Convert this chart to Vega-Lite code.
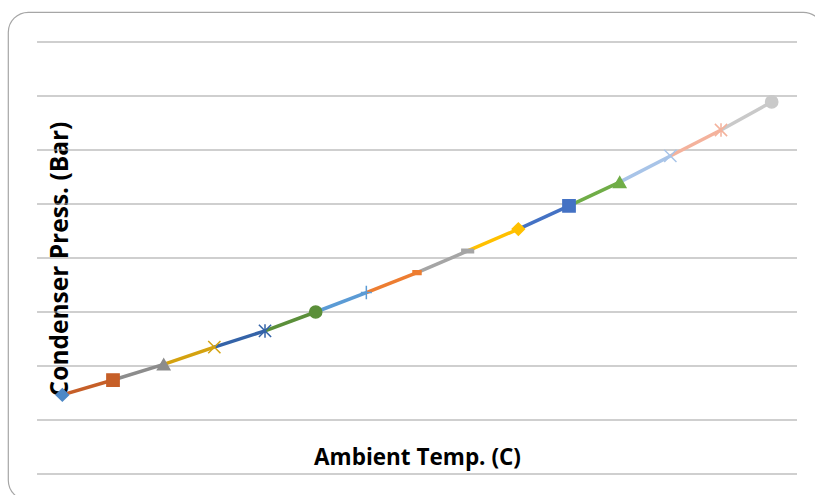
{
  "$schema": "https://vega.github.io/schema/vega-lite/v6.json",
  "width": 815,
  "height": 488,
  "autosize": {"type": "none"},
  "padding": {"left": 8, "top": 12, "right": -8, "bottom": -5},
  "background": "white",
  "config": {
    "view": {"stroke": "#A6A6A6", "strokeWidth": 1.2, "cornerRadius": 20},
    "axis": {"domain": false, "ticks": false, "labels": false, "grid": false, "titleFont": "Open Sans", "titleFontWeight": "bold", "titleColor": "#000000"},
    "axisX": {"titleX": 409, "titleY": -43, "titleAlign": "center", "titleBaseline": "middle", "titleFontSize": 22.5},
    "axisY": {"titleX": 52, "titleY": 246.5, "titleAngle": 270, "titleAlign": "center", "titleBaseline": "middle", "titleFontSize": 24.5}
  },
  "datasets": {
    "pts": [
      {"s": 1, "T": 20, "P": 2.93, "m": "diamond"},
      {"s": 2, "T": 22, "P": 3.48, "m": "square"},
      {"s": 3, "T": 24, "P": 4.06, "m": "triangle"},
      {"s": 4, "T": 26, "P": 4.70, "m": "x"},
      {"s": 5, "T": 28, "P": 5.30, "m": "star"},
      {"s": 6, "T": 30, "P": 6.00, "m": "circle"},
      {"s": 7, "T": 32, "P": 6.72, "m": "plus"},
      {"s": 8, "T": 34, "P": 7.46, "m": "dash"},
      {"s": 9, "T": 36, "P": 8.26, "m": "longdash"},
      {"s": 10, "T": 38, "P": 9.07, "m": "diamond"},
      {"s": 11, "T": 40, "P": 9.93, "m": "square"},
      {"s": 12, "T": 42, "P": 10.81, "m": "triangle"},
      {"s": 13, "T": 44, "P": 11.78, "m": "x"},
      {"s": 14, "T": 46, "P": 12.74, "m": "star"},
      {"s": 15, "T": 48, "P": 13.78, "m": "circle"}
    ],
    "segs": [
      {"s": 2, "T": 20, "P": 2.93}, {"s": 2, "T": 22, "P": 3.48},
      {"s": 3, "T": 22, "P": 3.48}, {"s": 3, "T": 24, "P": 4.06},
      {"s": 4, "T": 24, "P": 4.06}, {"s": 4, "T": 26, "P": 4.70},
      {"s": 5, "T": 26, "P": 4.70}, {"s": 5, "T": 28, "P": 5.30},
      {"s": 6, "T": 28, "P": 5.30}, {"s": 6, "T": 30, "P": 6.00},
      {"s": 7, "T": 30, "P": 6.00}, {"s": 7, "T": 32, "P": 6.72},
      {"s": 8, "T": 32, "P": 6.72}, {"s": 8, "T": 34, "P": 7.46},
      {"s": 9, "T": 34, "P": 7.46}, {"s": 9, "T": 36, "P": 8.26},
      {"s": 10, "T": 36, "P": 8.26}, {"s": 10, "T": 38, "P": 9.07},
      {"s": 11, "T": 38, "P": 9.07}, {"s": 11, "T": 40, "P": 9.93},
      {"s": 12, "T": 40, "P": 9.93}, {"s": 12, "T": 42, "P": 10.81},
      {"s": 13, "T": 42, "P": 10.81}, {"s": 13, "T": 44, "P": 11.78},
      {"s": 14, "T": 44, "P": 11.78}, {"s": 14, "T": 46, "P": 12.74},
      {"s": 15, "T": 46, "P": 12.74}, {"s": 15, "T": 48, "P": 13.78}
    ],
    "grid": [{"g": 0}, {"g": 2}, {"g": 4}, {"g": 6}, {"g": 8}, {"g": 10}, {"g": 12}, {"g": 14}, {"g": 16}]
  },
  "layer": [
    {
      "data": {"name": "grid"},
      "mark": {"type": "rule", "color": "#A0A0A0", "strokeWidth": 1.2},
      "encoding": {
        "y": {"field": "g", "type": "quantitative", "title": "Condenser Press. (Bar)", "scale": {"domain": [-0.963, 17.1111], "nice": false, "zero": false}},
        "x": {"datum": 19, "type": "quantitative", "title": "Ambient Temp. (C)", "scale": {"domain": [17.855, 50.026], "nice": false, "zero": false}},
        "x2": {"datum": 49}
      }
    },
    {
      "data": {"name": "segs"},
      "mark": {"type": "line", "strokeWidth": 3.5, "strokeCap": "butt"},
      "encoding": {
        "x": {"field": "T", "type": "quantitative", "title": "Ambient Temp. (C)"},
        "y": {"field": "P", "type": "quantitative", "title": "Condenser Press. (Bar)"},
        "detail": {"field": "s", "type": "nominal"},
        "color": {"field": "s", "type": "nominal", "legend": null,
          "scale": {"domain": [1,2,3,4,5,6,7,8,9,10,11,12,13,14,15],
                    "range": ["#4E88C6", "#C65F28", "#8C8C8C", "#D4A20F", "#3463A8", "#5B8F3A", "#5B9BD5", "#ED7D31", "#A5A5A5", "#FFC000", "#4472C4", "#70AD47", "#A8C4E8", "#F4B29C", "#C9C9C9"]}}
      }
    },
    {
      "data": {"name": "pts"},
      "mark": {"type": "point", "filled": true, "opacity": 1, "strokeWidth": 1.5, "size": 150},
      "encoding": {
        "x": {"field": "T", "type": "quantitative", "title": "Ambient Temp. (C)"},
        "y": {"field": "P", "type": "quantitative", "title": "Condenser Press. (Bar)"},
        "color": {"field": "s", "type": "nominal", "legend": null},
        "stroke": {"field": "s", "type": "nominal", "legend": null, "scale": {"domain": [1,2,3,4,5,6,7,8,9,10,11,12,13,14,15],
                    "range": ["#4E88C6", "#C65F28", "#8C8C8C", "#D4A20F", "#3463A8", "#5B8F3A", "#5B9BD5", "#ED7D31", "#A5A5A5", "#FFC000", "#4472C4", "#70AD47", "#A8C4E8", "#F4B29C", "#C9C9C9"]}},
        "shape": {"field": "m", "type": "nominal", "legend": null,
          "scale": {"domain": ["diamond", "square", "triangle", "x", "star", "circle", "plus", "dash", "longdash"],
                    "range": ["diamond", "square", "triangle-up", "M-1,-1L1,1M-1,1L1,-1", "M-1,-1L1,1M-1,1L1,-1M0,-1.1L0,1.1", "circle", "M-0.9,0L0.9,0M0,-1.1L0,1.1", "M-0.65,-0.3L0.65,-0.3L0.65,0.3L-0.65,0.3Z", "M-0.95,-0.3L0.95,-0.3L0.95,0.3L-0.95,0.3Z"]}}
      }
    }
  ]
}
